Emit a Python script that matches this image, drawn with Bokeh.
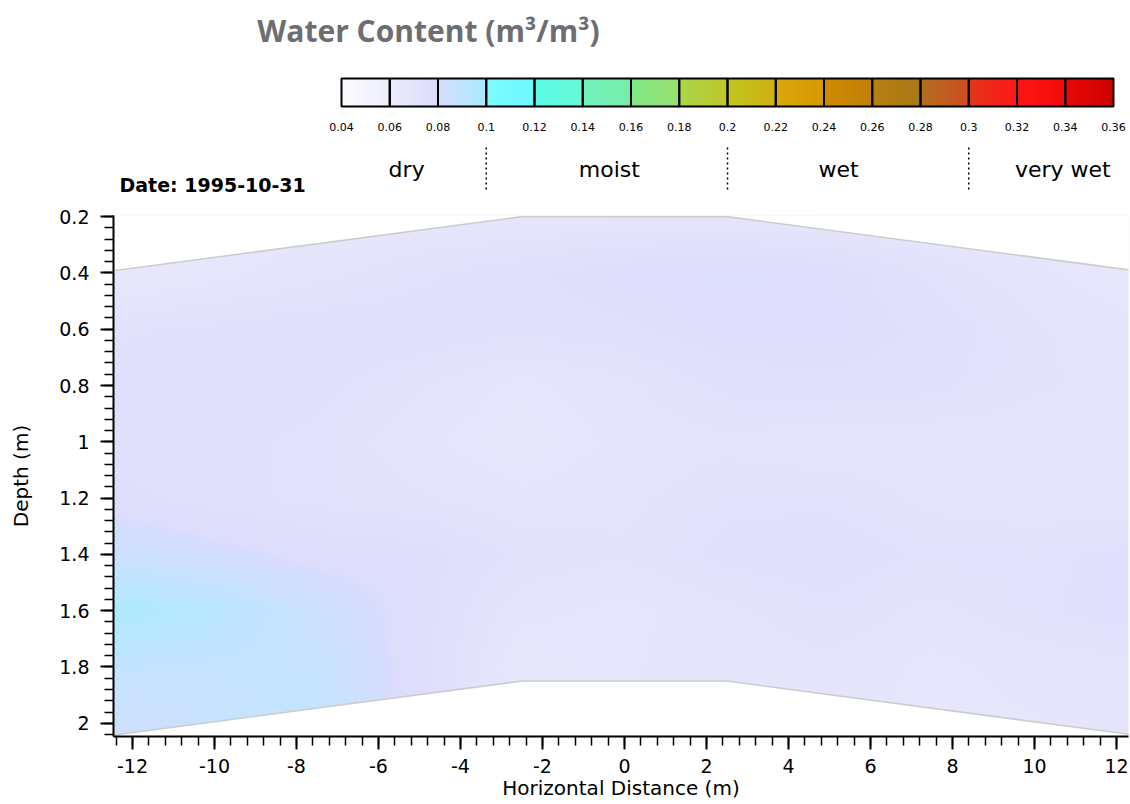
import numpy as np
from bokeh.plotting import figure
from bokeh.models import Range1d, FixedTicker, Label
from bokeh.layouts import column
from bokeh.embed import file_html
from bokeh.resources import INLINE
from bokeh.core.properties import value

# ---------------- data ----------------
title_text = "Water Content (m³/m³)"
date_text = "Date: 1995-10-31"
x_title = "Horizontal Distance (m)"
y_title = "Depth (m)"

scale_bounds = [0.04, 0.06, 0.08, 0.10, 0.12, 0.14, 0.16, 0.18, 0.20,
                0.22, 0.24, 0.26, 0.28, 0.30, 0.32, 0.34, 0.36]
scale_labels = ["0.04", "0.06", "0.08", "0.1", "0.12", "0.14", "0.16", "0.18", "0.2",
                "0.22", "0.24", "0.26", "0.28", "0.3", "0.32", "0.34", "0.36"]
class_names = ["dry", "moist", "wet", "very wet"]
class_edges = [0.1, 0.2, 0.3]
class_label_at = [0.067, 0.151, 0.246, 0.339]

seg_start_colors = ["#fbfbff", "#ececfc", "#d8dcfe", "#7cfcff", "#5cfce8", "#70f4c0",
                    "#80e888", "#a8d848", "#c0c820", "#d8a810", "#d08c00", "#b88010",
                    "#b07020", "#e03818", "#ff1414", "#e80808"]
seg_end_colors = ["#eeeefc", "#dcdcfc", "#a8ecff", "#6cf8ff", "#68f8d4", "#78eca8",
                  "#98e070", "#c0c428", "#d0b010", "#d89800", "#c08008", "#a87818",
                  "#d04c20", "#ff1818", "#f00c0c", "#d00000"]

x_ticks = [-12, -10, -8, -6, -4, -2, 0, 2, 4, 6, 8, 10, 12]
x_tick_labels = ["-12", "-10", "-8", "-6", "-4", "-2", "0", "2", "4", "6", "8", "10", "12"]
y_ticks = [0.2, 0.4, 0.6, 0.8, 1.0, 1.2, 1.4, 1.6, 1.8, 2.0]
y_tick_labels = ["0.2", "0.4", "0.6", "0.8", "1", "1.2", "1.4", "1.6", "1.8", "2"]

profile_x = [-12.5, -2.5, 2.5, 12.5]
surface_depth = [0.393, 0.2, 0.2, 0.393]
base_depth = [2.043, 1.85, 1.85, 2.043]

grid_x = [-12.5, -10, -7.5, -5, -2.5, 0, 2.5, 5, 7.5, 10, 12.5]
grid_depth = [0.2, 0.4, 0.6, 0.8, 1.0, 1.2, 1.4, 1.6, 1.8, 2.0]
wc_d020 = [0.066, 0.066, 0.067, 0.068, 0.068, 0.069, 0.069, 0.068, 0.067, 0.066, 0.066]
wc_d040 = [0.065, 0.0675, 0.070, 0.0725, 0.075, 0.0775, 0.079, 0.0775, 0.0725, 0.069, 0.066]
wc_d060 = [0.0725, 0.074, 0.075, 0.075, 0.074, 0.075, 0.0775, 0.0775, 0.075, 0.071, 0.069]
wc_d080 = [0.075, 0.075, 0.074, 0.071, 0.0675, 0.070, 0.074, 0.075, 0.074, 0.071, 0.070]
wc_d100 = [0.074, 0.074, 0.0725, 0.069, 0.066, 0.069, 0.070, 0.069, 0.069, 0.069, 0.069]
wc_d120 = [0.077, 0.074, 0.0725, 0.071, 0.069, 0.070, 0.0725, 0.0725, 0.070, 0.069, 0.069]
wc_d140 = [0.086, 0.082, 0.078, 0.077, 0.0725, 0.071, 0.074, 0.075, 0.0725, 0.0725, 0.074]
wc_d160 = [0.098, 0.093, 0.085, 0.077, 0.069, 0.0675, 0.070, 0.0725, 0.070, 0.0725, 0.075]
wc_d180 = [0.089, 0.088, 0.088, 0.077, 0.066, 0.068, 0.069, 0.070, 0.0675, 0.069, 0.070]
wc_d200 = [0.084, 0.087, 0.089, 0.077, 0.068, 0.068, 0.068, 0.069, 0.0675, 0.068, 0.070]

# ---------------- colour scale ----------------
def hex2rgb(h):
    return np.array([int(h[i:i + 2], 16) for i in (1, 3, 5)], dtype=float)

S = np.array([hex2rgb(c) for c in seg_start_colors])
E = np.array([hex2rgb(c) for c in seg_end_colors])
lo, step = scale_bounds[0], scale_bounds[1] - scale_bounds[0]
nseg = len(seg_start_colors)

def wc_to_rgba(v):
    v = np.asarray(v, dtype=float)
    pos = np.clip((v - lo) / step, 0, nseg - 1e-6)
    k = np.floor(pos).astype(int)
    t = (pos - k)[..., None]
    rgb = S[k] * (1 - t) + E[k] * t
    out = np.empty(v.shape, dtype=np.uint32)
    view = out.view(dtype=np.uint8).reshape(v.shape + (4,))
    view[..., 0] = np.round(rgb[..., 0])
    view[..., 1] = np.round(rgb[..., 1])
    view[..., 2] = np.round(rgb[..., 2])
    view[..., 3] = 255
    return out

# ---------------- layout constants (page pixels) ----------------
W = 1130
FRAME_L, FRAME_R = 113, 1128
TOP_H = 203
MAIN_H = 601

# ---------------- top panel (title + colour scale) ----------------
cb_left_px, cb_right_px = 341, 1113
ppu = (cb_right_px - cb_left_px) / (scale_bounds[-1] - scale_bounds[0])

def px2v(px):
    return scale_bounds[0] + (px - cb_left_px) / ppu

top = figure(width=W, height=TOP_H, x_range=Range1d(px2v(FRAME_L), px2v(FRAME_R)),
             y_range=Range1d(TOP_H, 0), x_axis_type=None, y_axis_type=None,
             toolbar_location=None, output_backend="svg",
             min_border_left=FRAME_L, min_border_right=W - FRAME_R,
             min_border_top=0, min_border_bottom=0, outline_line_color=None)
top.grid.visible = False

ncol = 16 * 48
cb_vals = np.linspace(scale_bounds[0], scale_bounds[-1] - 1e-6, ncol)[None, :]
top.image_rgba(image=[wc_to_rgba(cb_vals)], x=scale_bounds[0], y=78,
               dw=scale_bounds[-1] - scale_bounds[0], dh=28)
top.quad(left=scale_bounds[:-1], right=scale_bounds[1:], top=78, bottom=106,
         fill_color=None, line_color="black", line_width=2)
top.text(x=scale_bounds, y=126, text=scale_labels, text_align="center",
         text_baseline="middle", text_font=value("DejaVu Sans"),
         text_font_size="11px", text_color="black")
top.segment(x0=class_edges, y0=147, x1=class_edges, y1=189, line_dash="2 3",
            line_width=1.5, line_color="black")
top.text(x=class_label_at, y=169, text=class_names, text_align="center",
         text_baseline="alphabetic", text_font=value("DejaVu Sans"),
         text_font_size="22px", text_color="black")
top.add_layout(Label(x=px2v(119), y=184, text=date_text, text_align="left",
                     text_baseline="middle", text_font="DejaVu Sans",
                     text_font_style="bold", text_font_size="19px",
                     text_color="black"))
top.add_layout(Label(x=px2v(428), y=30, text=title_text, text_align="center",
                     text_baseline="alphabetic", text_font="Open Sans",
                     text_font_style="bold", text_font_size="30px",
                     text_color="#6d6e71"))

# ---------------- main section plot ----------------
p = figure(width=W, height=MAIN_H, x_range=Range1d(-12.463, 12.293),
           y_range=Range1d(2.047, 0.196), toolbar_location=None,
           output_backend="svg", min_border_left=FRAME_L,
           min_border_right=W - FRAME_R, min_border_top=12,
           min_border_bottom=68, outline_line_color=None)
p.grid.visible = False

rows = np.array([wc_d020, wc_d040, wc_d060, wc_d080, wc_d100,
                 wc_d120, wc_d140, wc_d160, wc_d180, wc_d200])
nx, ny = 640, 240
x0, x1, d0, d1 = -12.5, 12.5, 0.19, 2.06
xs = np.linspace(x0, x1, nx)
ds = np.linspace(d0, d1, ny)
tmp = np.array([np.interp(xs, grid_x, r) for r in rows])
field = np.array([np.interp(ds, grid_depth, tmp[:, j]) for j in range(nx)]).T
p.image_rgba(image=[wc_to_rgba(field)], x=x0, y=d0, dw=x1 - x0, dh=d1 - d0)

p.patch(profile_x + [profile_x[-1], profile_x[0]], surface_depth + [0.0, 0.0],
        fill_color="white", line_color=None)
p.patch(profile_x + [profile_x[-1], profile_x[0]], base_depth + [3.0, 3.0],
        fill_color="white", line_color=None)
p.line(profile_x, surface_depth, line_color="#cdcdcd", line_width=1.6)
p.line(profile_x, base_depth, line_color="#cdcdcd", line_width=1.6)

p.xaxis.ticker = FixedTicker(ticks=x_ticks,
                             minor_ticks=[round(-12.4 + 0.4 * i, 2) for i in range(62)])
p.yaxis.ticker = FixedTicker(ticks=y_ticks,
                             minor_ticks=[round(0.2 + 0.04 * i, 2) for i in range(47)])
p.xaxis.major_label_overrides = dict(zip(x_ticks, x_tick_labels))
p.yaxis.major_label_overrides = dict(zip(y_ticks, y_tick_labels))
p.xaxis.axis_label = x_title
p.yaxis.axis_label = y_title
for ax in (p.xaxis, p.yaxis):
    ax.axis_line_width = 2
    ax.axis_line_color = "black"
    ax.major_tick_line_color = "black"
    ax.minor_tick_line_color = "black"
    ax.major_tick_line_width = 2
    ax.minor_tick_line_width = 1.5
    ax.major_tick_in = 0
    ax.minor_tick_in = 0
    ax.major_tick_out = 13
    ax.minor_tick_out = 9
    ax.major_label_text_font = "DejaVu Sans"
    ax.major_label_text_font_size = "19px"
    ax.major_label_text_color = "black"
    ax.axis_label_text_font = "DejaVu Sans"
    ax.axis_label_text_font_size = "20px"
    ax.axis_label_text_font_style = "normal"
    ax.axis_label_text_color = "black"
p.xaxis.major_label_standoff = 9
p.xaxis.axis_label_standoff = 0
p.yaxis.major_label_standoff = 11
p.yaxis.axis_label_standoff = 23

layout = column(top, p, spacing=0)
open("out.html", "w").write(file_html(layout, INLINE))
